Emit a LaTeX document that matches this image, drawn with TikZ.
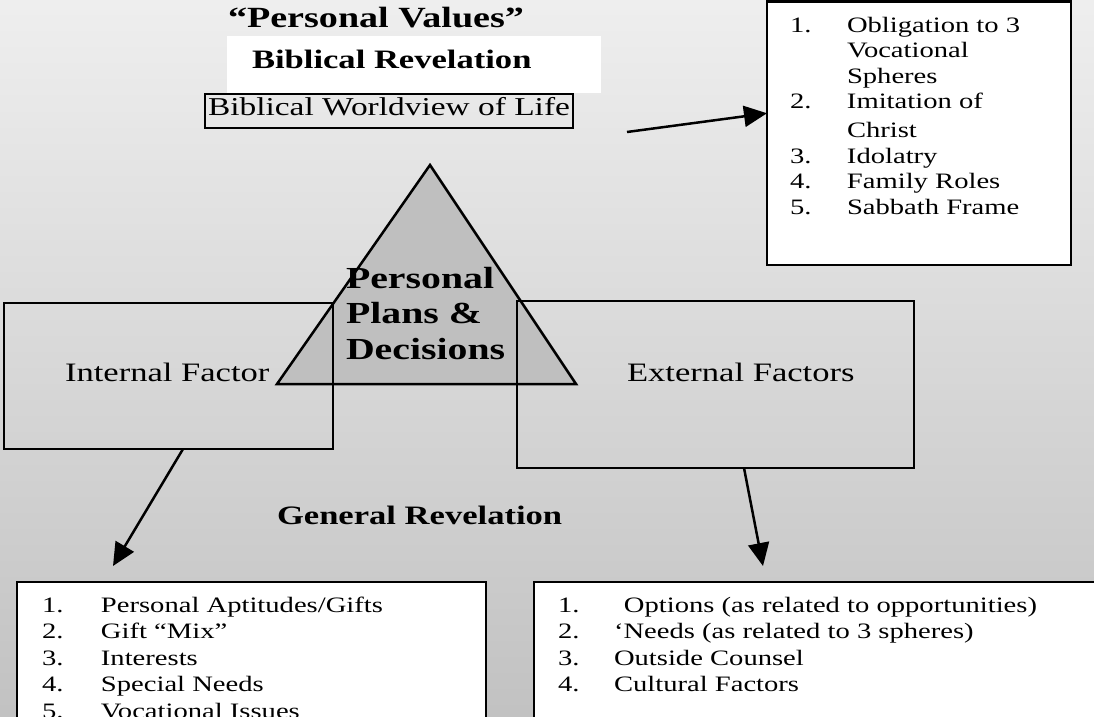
\documentclass[tikz,border=0pt]{standalone}
\usepackage{fontspec}
\setmainfont{Liberation Serif}[FakeStretch=1.3]
\usetikzlibrary{arrows.meta, positioning}

\begin{document}
\begin{tikzpicture}[x=1pt, y=-1pt,
  plain/.style={inner sep=0, outer sep=0, anchor=base west, font=\fontsize{26.6}{32}\selectfont},
  heading/.style={plain, font=\fontsize{26.6}{32}\selectfont\bfseries},
  listtext/.style={plain, font=\fontsize{22}{26.5}\selectfont},
  frame/.style={draw=black, line width=2.5pt, inner sep=0, outer sep=0},
  arr/.style={black, line width=2.5pt, -{Triangle[length=23pt, width=21pt]}}]
  \useasboundingbox (0,0) rectangle (1094,716);
  \clip (0,0) rectangle (1094,716);
  \shade[top color=gray!13, bottom color=gray!48] (0,0) rectangle (1094,716);

  % centre triangle
  \draw[fill=gray!50, line width=2.5pt] (430,165) -- (576,384) -- (277,384) -- cycle;

  % factor boxes
  \node[frame, minimum width=329pt, minimum height=146pt] (intbox) at (168.5,376) {};
  \node[frame, minimum width=397pt, minimum height=167pt] (extbox) at (715.5,384.5) {};
  \node[plain] (inttext) at (65,381) {Internal Factor};
  \node[plain] (exttext) at (627,381) {External Factors};

  % top titles
  \node[heading, font=\fontsize{29.3}{34}\selectfont\bfseries] (persval) at (228,27) {“Personal Values”};
  \node[fill=white, inner sep=0, minimum width=374pt, minimum height=57pt] (revbox) at (414,64.5) {};
  \node[heading] (revtext) at (252,68) {Biblical Revelation};
  \node[frame, minimum width=368pt, minimum height=34pt] (worldbox) at (389,111) {};
  \node[plain, font=\fontsize{25.7}{30}\selectfont] (worldtext) at (208,115) {Biblical Worldview of Life};

  % value list
  \node[frame, fill=white, minimum width=304pt, minimum height=263.5pt] (valuelist) at (919,133.25) {};
  \node[listtext, font=\fontsize{22}{25.5}\selectfont] (valuetext) at (790,32) {\begin{tabular}[t]{@{}p{57pt}@{}l@{}}
    1. & Obligation to 3\\ & Vocational\\ & Spheres\\
    2. & Imitation of\\[3.5pt] & Christ\\
    3. & Idolatry\\ 4. & Family Roles\\ 5. & Sabbath Frame
  \end{tabular}};

  % lower lists
  \node[frame, fill=white, minimum width=469pt, minimum height=168pt] (intlist) at (251.5,666) {};
  \node[frame, fill=white, minimum width=586pt, minimum height=168pt] (extlist) at (827,666) {};
  \node[listtext] (intlisttext) at (42,612) {\begin{tabular}[t]{@{}p{59pt}@{}l@{}}
    1. & Personal Aptitudes/Gifts\\ 2. & Gift “Mix”\\ 3. & Interests\\
    4. & Special Needs\\ 5. & Vocational Issues
  \end{tabular}};
  \node[listtext] (extlisttext) at (558,612) {\begin{tabular}[t]{@{}p{56pt}@{}l@{}}
    1. & \hspace{10pt}Options (as related to opportunities)\\
    2. & ‘Needs (as related to 3 spheres)\\
    3. & Outside Counsel\\ 4. & Cultural Factors
  \end{tabular}};

  \node[heading] (genrev) at (277,524) {General Revelation};
  \node[heading, font=\fontsize{30.6}{35.5}\selectfont\bfseries] (plans) at (346,288) {\begin{tabular}[t]{@{}l@{}}Personal\\ Plans \&\\ Decisions\end{tabular}};

  % arrows
  \coordinate (valtail) at (627,132);
  \coordinate (inttip) at (113,566);
  \coordinate (exttip) at (763,566);
  \draw[arr] (valtail) -- ([yshift=20]valuelist.west);
  \draw[arr] ([xshift=14.5]intbox.south) -- (inttip);
  \draw[arr] ([xshift=28.5]extbox.south) -- (exttip);
\end{tikzpicture}
\end{document}
